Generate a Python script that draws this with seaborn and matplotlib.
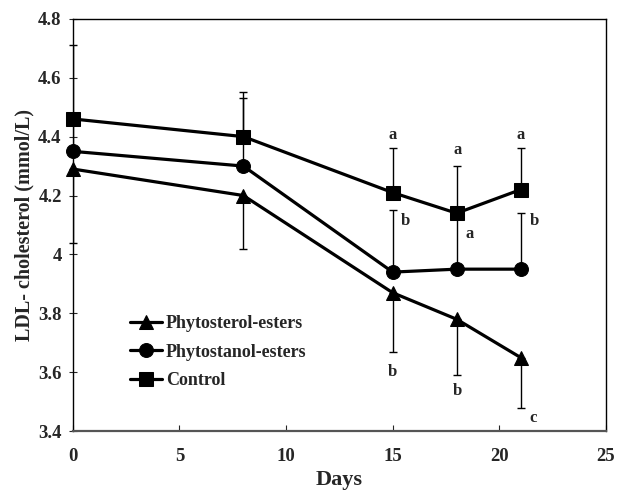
import matplotlib
matplotlib.use("Agg")
import matplotlib.pyplot as plt
import pandas as pd
import seaborn as sns

# Data
days = [0, 8, 15, 18, 21]
sterol = [4.29, 4.20, 3.87, 3.78, 3.65]
stanol = [4.35, 4.30, 3.94, 3.95, 3.95]
control = [4.46, 4.40, 4.21, 4.14, 4.22]

# one-sided SD bars: sterol down, stanol up, control up
sterol_err = [0.25, 0.18, 0.20, 0.19, 0.17]
stanol_err = [0.10, 0.23, 0.21, 0.18, 0.19]
control_err = [0.25, 0.15, 0.15, 0.16, 0.14]

# significance letters: (day, value, text)
letters = [(15, 4.405, 'a'), (15.6, 4.115, 'b'), (15, 3.60, 'b'),
           (18.05, 4.355, 'a'), (18.6, 4.07, 'a'), (18.05, 3.537, 'b'),
           (21, 4.405, 'a'), (21.65, 4.115, 'b'), (21.6, 3.443, 'c')]

df = pd.DataFrame({'day': days * 3,
                   'value': sterol + stanol + control,
                   'group': ['Phytosterol-esters'] * 5 + ['Phytostanol-esters'] * 5 + ['Control'] * 5})

sns.set_style('ticks')
plt.rcParams['font.family'] = ['Liberation Serif', 'DejaVu Serif']
plt.rcParams['font.weight'] = 'bold'

fig, ax = plt.subplots(figsize=(6.17, 4.95), dpi=100)

# error bars first so markers sit on top
ax.errorbar(days, sterol, yerr=[sterol_err, [0] * 5], fmt='none', ecolor='black', elinewidth=1, capsize=3)
ax.errorbar(days, stanol, yerr=[[0] * 5, stanol_err], fmt='none', ecolor='black', elinewidth=1, capsize=3)
ax.errorbar(days, control, yerr=[[0] * 5, control_err], fmt='none', ecolor='black', elinewidth=1, capsize=3)

sns.lineplot(data=df, x='day', y='value', style='group', hue='group',
             palette=['black'] * 3, markers=['^', 'o', 's'], dashes=False,
             markersize=10, linewidth=2.3, markeredgecolor='black', ax=ax)
for ln in ax.lines:
    ln.set_clip_on(False)

for x, y, t in letters:
    ax.text(x, y, t, ha='center', va='center', fontsize=12, fontweight='bold')

ax.set_xlim(0, 25)
ax.set_ylim(3.4, 4.8)
ax.set_xticks([0, 5, 10, 15, 20, 25])
ax.set_yticks([3.4, 3.6, 3.8, 4.0, 4.2, 4.4, 4.6, 4.8])
ax.set_yticklabels(['3.4', '3.6', '3.8', '4', '4.2', '4.4', '4.6', '4.8'])
ax.tick_params(axis='y', direction='inout', length=6, labelsize=13.5, pad=5)
ax.tick_params(axis='x', direction='in', length=4, labelsize=13.5, pad=12)
for lab in ax.get_xticklabels() + ax.get_yticklabels():
    lab.set_fontweight('bold')

for s in ['top', 'right', 'left']:
    ax.spines[s].set_linewidth(1)
    ax.spines[s].set_color('black')
ax.spines['bottom'].set_linewidth(1.6)
ax.spines['bottom'].set_color('#555555')

ax.set_xlabel('Days', fontsize=16, fontweight='bold', labelpad=4)
ax.set_ylabel('LDL- cholesterol (mmol/L)', fontsize=14.5, fontweight='bold', labelpad=3)

leg = ax.legend(loc='upper left', bbox_to_anchor=(0.093, 0.298), frameon=False,
                handlelength=1.8, handletextpad=0.2, labelspacing=0.62,
                borderaxespad=0, prop={'weight': 'bold', 'size': 13})

fig.subplots_adjust(left=0.118, right=0.982, top=0.962, bottom=0.129)
fig.savefig('out.png', dpi=100)
